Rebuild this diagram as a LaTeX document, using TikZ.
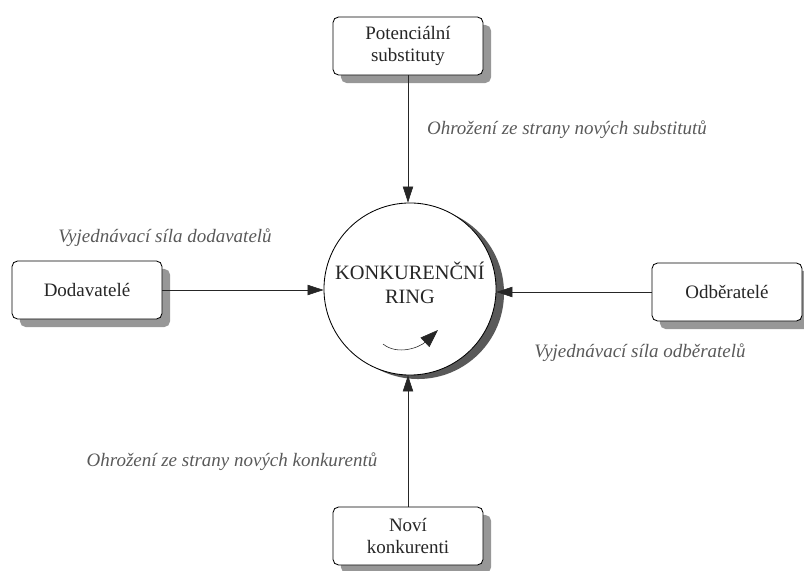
\documentclass[tikz,border=0pt]{standalone}
\usepackage{fontspec}
\setmainfont{Liberation Serif}
\usetikzlibrary{arrows.meta,shadows}
\tikzset{
  partybox/.style={draw, semithick, rounded corners=4pt, fill=white, align=center,
    minimum width=3.75cm, minimum height=1.45cm, text=black!85, font=\fontsize{13.5}{15.5}\selectfont,
    drop shadow={shadow xshift=0.2cm, shadow yshift=-0.2cm, fill=black!45, opacity=0.9}},
  ringnode/.style={draw, semithick, circle, fill=white, minimum size=4.3cm,
    drop shadow={shadow xshift=0.2cm, shadow yshift=-0.1cm, fill=black!65, opacity=1}},
  ringtext/.style={align=center, text=black!85, font=\fontsize{14.5}{17}\selectfont},
  force/.style={-{Triangle[length=0.4cm,width=0.26cm]}, black!85},
  forcelabel/.style={text=black!65, font=\fontsize{13.5}{15}\selectfont\itshape}
}
\begin{document}
\begin{tikzpicture}[x=0.025cm,y=-0.025cm]
    \useasboundingbox (0,0) rectangle (804,571);
    % the five nodes
    \node[ringnode] (ring) at (410,289) {};
    \node[ringtext] (ringname) at (410,283) {KONKURENČNÍ\\RING};
    \node[partybox] (subst) at (408,46) {Potenciální\\substituty};
    \node[partybox] (dodav) at (87,290) {Dodavatelé};
    \node[partybox] (odber) at (727,292) {Odběratelé};
    \node[partybox] (novi) at (408,536) {Noví\\konkurenti};
    % forces
    \draw[force] (subst.south) -- (subst.south |- ring.north);
    \draw[force] (dodav.east) -- (ring.west |- dodav.east);
    \draw[force] (odber.west) -- (ring.east |- odber.west);
    \draw[force] (novi.north) -- (novi.north |- ring.south);
    \node[forcelabel] (lsubst) at (567,130) {Ohrožení ze strany nových substitutů};
    \node[forcelabel] (ldodav) at (165,238) {Vyjednávací síla dodavatelů};
    \node[forcelabel] (lodber) at (640,353) {Vyjednávací síla odběratelů};
    \node[forcelabel] (lnovi) at (232,462) {Ohrožení ze strany nových konkurentů};
    % rotation inside the ring
    \coordinate (rotA) at (383,344);
    \coordinate (rotB) at (438,330);
    \draw[-{Triangle[length=0.45cm,width=0.32cm]}, black!85] (rotA) .. controls (398,356) and (420,347) .. (rotB);
\end{tikzpicture}
\end{document}
